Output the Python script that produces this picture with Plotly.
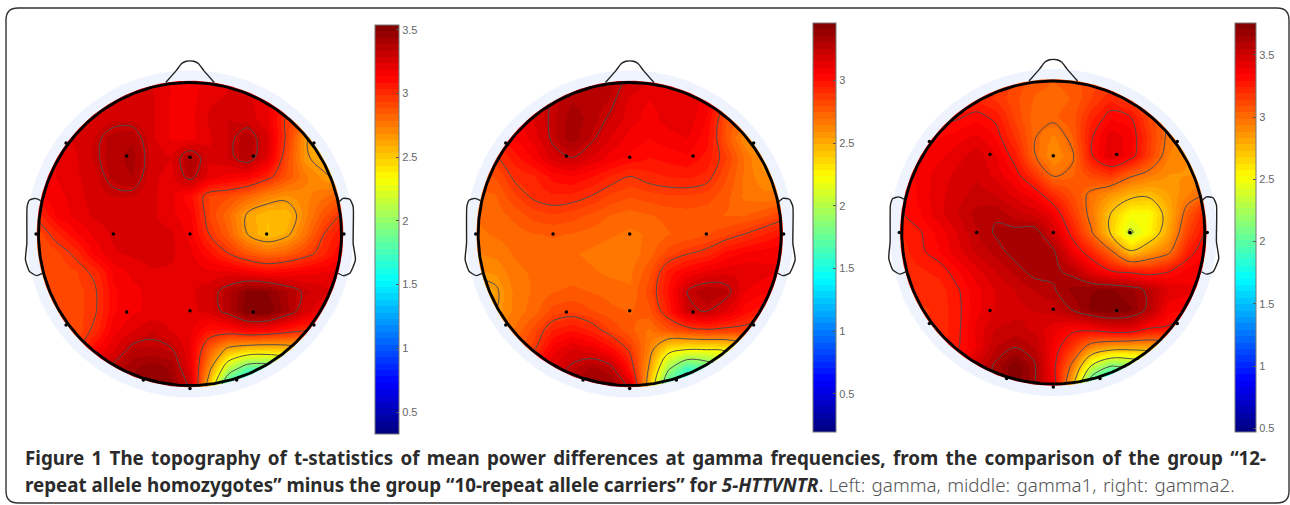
import numpy as np
import plotly.graph_objects as go

W, H = 1290, 505

# t-statistics: rows run from the top of the head to the bottom
gamma_t = [
 [3.20,3.20,3.20,3.20,3.21,3.23,3.23,3.19,3.17,3.20,3.23,3.23,3.19,3.10,2.95,2.80,2.70],
 [3.23,3.23,3.23,3.23,3.25,3.25,3.25,3.18,3.17,3.23,3.25,3.25,3.20,3.10,2.95,2.80,2.70],
 [3.23,3.23,3.23,3.25,3.28,3.28,3.25,3.18,3.17,3.25,3.29,3.27,3.20,2.97,2.85,2.72,2.65],
 [3.17,3.21,3.25,3.29,3.37,3.38,3.25,3.18,3.17,3.23,3.29,3.38,3.25,2.97,2.66,2.55,2.50],
 [3.15,3.20,3.23,3.30,3.37,3.41,3.27,3.24,3.40,3.25,3.29,3.38,3.23,2.92,2.66,2.58,2.50],
 [3.15,3.19,3.23,3.27,3.36,3.39,3.25,3.22,3.36,3.21,3.17,3.15,3.03,2.88,2.75,2.66,2.60],
 [3.13,3.17,3.21,3.27,3.29,3.29,3.25,3.20,3.10,2.93,2.90,2.82,2.72,2.68,2.72,2.78,2.85],
 [3.00,3.15,3.20,3.25,3.27,3.27,3.25,3.20,3.15,2.93,2.80,2.62,2.54,2.54,2.72,2.88,3.00],
 [2.90,3.02,3.13,3.20,3.25,3.27,3.27,3.25,3.17,2.98,2.84,2.64,2.53,2.60,2.78,2.98,3.10],
 [2.88,2.92,3.00,3.15,3.23,3.25,3.27,3.25,3.20,3.10,2.98,2.87,2.80,2.84,2.93,3.03,3.15],
 [2.88,2.90,2.93,3.00,3.15,3.20,3.23,3.23,3.23,3.20,3.21,3.17,3.13,3.15,3.17,3.19,3.21],
 [2.88,2.90,2.92,2.96,3.13,3.17,3.21,3.23,3.23,3.27,3.37,3.50,3.49,3.39,3.30,3.25,3.25],
 [2.88,2.90,2.92,2.96,3.13,3.18,3.20,3.22,3.23,3.25,3.37,3.53,3.54,3.41,3.25,3.20,3.15],
 [2.88,2.88,2.90,3.00,3.17,3.23,3.29,3.23,3.20,3.08,3.08,3.15,3.13,3.06,3.00,2.95,2.90],
 [2.90,2.90,2.95,3.13,3.23,3.35,3.35,3.33,3.19,2.85,2.60,2.52,2.50,2.53,2.60,2.60,2.60],
 [2.95,3.00,3.15,3.25,3.35,3.43,3.48,3.43,3.21,2.70,2.13,1.82,1.80,1.95,2.20,2.30,2.40],
 [3.00,3.10,3.20,3.30,3.40,3.45,3.50,3.45,3.31,2.50,1.60,1.40,1.50,1.70,2.00,2.20,2.30],
]
gamma1_t = [
 [3.20,3.20,3.20,3.20,3.22,3.25,3.28,3.26,3.20,3.15,3.13,3.12,3.05,2.95,2.85,2.80,2.70],
 [3.00,3.05,3.10,3.16,3.23,3.30,3.28,3.25,3.13,3.10,3.12,3.14,3.08,2.90,2.80,2.70,2.65],
 [3.00,3.02,3.08,3.16,3.24,3.34,3.28,3.20,3.12,3.08,3.12,3.14,3.04,2.80,2.72,2.65,2.60],
 [2.95,3.00,3.05,3.12,3.24,3.34,3.24,3.14,3.08,3.05,3.08,3.10,3.02,2.78,2.60,2.52,2.50],
 [2.85,2.88,2.98,3.06,3.18,3.22,3.15,3.08,3.04,3.00,3.02,3.04,2.98,2.85,2.68,2.56,2.50],
 [2.78,2.80,2.91,2.94,3.02,3.05,3.00,2.94,2.89,2.93,2.95,2.96,2.93,2.80,2.68,2.60,2.58],
 [2.72,2.74,2.84,2.91,2.94,2.93,2.89,2.83,2.80,2.82,2.84,2.84,2.82,2.76,2.68,2.66,2.66],
 [2.70,2.72,2.76,2.82,2.84,2.82,2.78,2.74,2.72,2.74,2.76,2.77,2.76,2.74,2.74,2.78,2.85],
 [2.68,2.70,2.72,2.74,2.75,2.74,2.72,2.70,2.68,2.70,2.74,2.76,2.79,2.83,2.89,2.95,3.00],
 [2.64,2.66,2.70,2.72,2.72,2.70,2.68,2.66,2.66,2.72,2.82,2.88,2.92,3.02,3.06,3.08,3.10],
 [2.58,2.60,2.68,2.70,2.71,2.71,2.70,2.68,2.68,2.78,2.97,3.06,3.12,3.14,3.14,3.12,3.10],
 [2.50,2.54,2.66,2.70,2.74,2.76,2.74,2.72,2.70,2.82,3.00,3.22,3.30,3.27,3.10,3.06,3.02],
 [2.50,2.56,2.66,2.72,2.82,2.84,2.80,2.76,2.74,2.78,2.96,3.20,3.23,3.14,3.02,2.96,2.92],
 [2.62,2.66,2.70,2.82,2.95,3.00,2.94,2.84,2.76,2.68,2.78,2.84,2.88,2.86,2.85,2.82,2.80],
 [2.70,2.72,2.76,2.88,3.08,3.16,3.12,3.02,2.87,2.64,2.32,2.25,2.25,2.27,2.40,2.50,2.50],
 [2.80,2.90,3.00,3.08,3.16,3.24,3.32,3.26,2.98,2.55,1.95,1.62,1.70,1.90,2.20,2.35,2.40],
 [2.90,3.00,3.10,3.20,3.25,3.30,3.40,3.40,3.20,2.45,1.60,1.40,1.50,1.70,2.00,2.20,2.30],
]
gamma2_t = [
 [3.26,3.26,3.26,3.26,3.23,3.21,3.12,3.06,3.04,3.06,3.12,3.12,3.12,3.06,3.01,2.95,2.90],
 [3.29,3.29,3.29,3.29,3.23,3.18,3.10,3.03,3.01,3.04,3.14,3.23,3.14,3.06,3.01,2.95,2.90],
 [3.23,3.26,3.28,3.29,3.33,3.28,3.12,3.01,3.03,3.07,3.23,3.34,3.31,3.12,2.99,2.90,2.85],
 [3.29,3.32,3.34,3.37,3.41,3.34,3.18,3.01,2.92,3.04,3.29,3.43,3.37,3.16,2.97,2.88,2.85],
 [3.29,3.34,3.38,3.43,3.48,3.40,3.26,3.01,2.88,2.98,3.29,3.45,3.36,3.14,2.93,2.88,2.85],
 [3.30,3.36,3.42,3.46,3.49,3.43,3.34,3.18,2.98,3.03,3.12,3.18,3.03,2.95,2.88,2.88,2.90],
 [3.28,3.36,3.43,3.48,3.52,3.50,3.43,3.36,3.21,3.09,2.97,2.86,2.76,2.74,2.83,2.93,3.01],
 [3.29,3.34,3.43,3.50,3.57,3.59,3.52,3.48,3.38,3.16,2.95,2.70,2.52,2.52,2.78,3.06,3.26],
 [3.24,3.29,3.36,3.45,3.55,3.61,3.63,3.65,3.48,3.26,3.01,2.68,2.37,2.55,2.82,3.14,3.32],
 [3.21,3.28,3.34,3.43,3.51,3.57,3.63,3.65,3.62,3.38,3.23,3.03,2.72,2.85,2.96,3.26,3.36],
 [3.21,3.23,3.26,3.34,3.43,3.50,3.57,3.63,3.62,3.57,3.41,3.30,3.26,3.23,3.29,3.36,3.41],
 [3.21,3.21,3.21,3.29,3.38,3.45,3.50,3.55,3.59,3.67,3.70,3.71,3.67,3.57,3.45,3.41,3.38],
 [3.21,3.18,3.20,3.28,3.38,3.45,3.48,3.50,3.52,3.61,3.72,3.75,3.71,3.57,3.36,3.34,3.34],
 [3.18,3.18,3.20,3.28,3.41,3.50,3.52,3.48,3.41,3.34,3.36,3.43,3.43,3.30,3.29,3.23,3.16],
 [3.18,3.18,3.21,3.29,3.40,3.55,3.60,3.55,3.37,3.17,2.90,2.80,2.78,2.80,2.85,2.90,2.90],
 [3.18,3.21,3.26,3.34,3.51,3.62,3.75,3.62,3.34,2.95,2.36,2.08,2.13,2.25,2.48,2.60,2.70],
 [3.21,3.23,3.29,3.36,3.45,3.61,3.75,3.61,3.40,2.75,1.83,1.55,1.67,1.90,2.28,2.50,2.60],
]
color_ranges = [(0.33, 3.54), (0.194, 3.458), (0.47, 3.755)]
contour_levels = [(1.62, 3.32, 0.34), (1.57, 3.22, 0.33), (1.8, 3.6, 0.3)]
tick_vals = [[0.5, 1, 1.5, 2, 2.5, 3, 3.5], [0.5, 1, 1.5, 2, 2.5, 3], [0.5, 1, 1.5, 2, 2.5, 3, 3.5]]
tick_text = [["0.5", "1", "1.5", "2", "2.5", "3", "3.5"], ["0.5", "1", "1.5", "2", "2.5", "3"], ["0.5", "1", "1.5", "2", "2.5", "3", "3.5"]]

electrode_x = [-0.418,0,0.418,-0.506,0,0.506,-0.418,0,0.418,-0.818,0.818,-1.016,1.016,-0.818,0.818,-0.308,0,0.308]
electrode_y = [0.515,0.506,0.515,0,0,0,-0.515,-0.506,-0.515,0.6,0.6,0,0,-0.6,-0.6,-0.964,-1.02,-0.964]
nose_x = [-0.16,-0.09,-0.055,-0.025,0,0.025,0.055,0.09,0.16]
nose_y = [1.0,1.08,1.125,1.14,1.143,1.14,1.125,1.08,1.0]
ear_left_x = [-0.985,-1.022,-1.059,-1.075,-1.077,-1.086,-1.059,-1.011,-0.971]
ear_left_y = [0.22,0.235,0.224,0.18,-0.062,-0.171,-0.248,-0.275,-0.259]
ear_right_x = [0.985,1.011,1.055,1.077,1.077,1.092,1.055,1.011,0.978]
ear_right_y = [0.213,0.235,0.229,0.18,-0.062,-0.171,-0.259,-0.275,-0.259]

panel_centers = [(190, 234), (629.7, 234), (1053.3, 232.5)]
bars = [(374.7, 398.7, 24.7, 433.7), (812.7, 835.3, 23.3, 432), (1234.7, 1256, 23.3, 432)]
R_PX = 151.5
HALF_PX = 180
HALF = HALF_PX / R_PX
ring_r, mask_r, inner_r = 1.08, 1.07, 1.012


def jet(t):
    r = np.clip(min(4 * t - 1.5, -4 * t + 4.5), 0, 1)
    g = np.clip(min(4 * t - 0.5, -4 * t + 3.5), 0, 1)
    b = np.clip(min(4 * t + 0.5, -4 * t + 2.5), 0, 1)
    return f"rgb({int(r*255)},{int(g*255)},{int(b*255)})"


N = 64
jet_scale = []
for i in range(N):
    c = jet((i + 0.5) / N)
    jet_scale += [[i / N, c], [(i + 1) / N, c]]

theta = np.linspace(0, 2 * np.pi, 361)


def keyhole(outer_x, outer_y, r):
    # the inner circle runs the opposite way round so that it stays a hole
    x = list(outer_x) + list(r * np.cos(theta[::-1]))
    y = list(outer_y) + list(r * np.sin(theta[::-1]))
    return x + [outer_x[0]], y + [outer_y[0]]


grid = np.linspace(-inner_r, inner_r, 17)
fig = go.Figure()
for p, (z_rows, (lo, hi), (c0, c1, dc), tv, tt, (cx, cy), (bx0, bx1, by0, by1)) in enumerate(
    zip([gamma_t, gamma1_t, gamma2_t], color_ranges, contour_levels, tick_vals, tick_text, panel_centers, bars)
):
    xa = "x" if p == 0 else f"x{p+1}"
    ya = "y" if p == 0 else f"y{p+1}"
    z = np.array(z_rows)[::-1]
    fig.add_trace(go.Heatmap(
        x=grid, y=grid, z=z, xaxis=xa, yaxis=ya, zmin=lo, zmax=hi, zsmooth="best",
        colorscale=jet_scale, hoverinfo="skip",
        colorbar=dict(
            x=bx0 / W, xanchor="left", xref="paper", y=1 - by1 / H, yanchor="bottom", yref="paper",
            lenmode="pixels", len=by1 - by0, thicknessmode="pixels", thickness=bx1 - bx0,
            xpad=0, ypad=0, outlinecolor="#777777", outlinewidth=1, borderwidth=0,
            tickmode="array", tickvals=tv, ticktext=tt, ticks="inside", ticklen=3, tickcolor="#555555",
            tickfont=dict(family="Liberation Sans", size=11, color="#666666"),
        ),
    ))
    fig.add_trace(go.Contour(
        x=grid, y=grid, z=z, xaxis=xa, yaxis=ya, showscale=False, hoverinfo="skip",
        autocontour=False, contours=dict(start=c0, end=c1, size=dc, coloring="none", showlines=True),
        line=dict(color="#4d4d4d", width=1, smoothing=1),
    ))
    mx, my = keyhole([HALF, HALF, -HALF, -HALF, HALF, HALF], [0, HALF, HALF, -HALF, -HALF, 0], mask_r)
    fig.add_trace(go.Scatter(x=mx, y=my, xaxis=xa, yaxis=ya, mode="lines", fill="toself",
                             fillcolor="white", line=dict(width=0), hoverinfo="skip", showlegend=False))
    ox, oy = ring_r * np.cos(theta), ring_r * np.sin(theta)
    rx, ry = keyhole(list(ox), list(oy), inner_r)
    fig.add_trace(go.Scatter(x=rx, y=ry, xaxis=xa, yaxis=ya, mode="lines", fill="toself",
                             fillcolor="#EEF3FE", line=dict(width=0), hoverinfo="skip", showlegend=False))
    fig.add_trace(go.Scatter(x=np.cos(theta), y=np.sin(theta), xaxis=xa, yaxis=ya, mode="lines",
                             line=dict(color="black", width=2.8), hoverinfo="skip", showlegend=False))
    for lx, ly in [(nose_x, nose_y), (ear_left_x, ear_left_y), (ear_right_x, ear_right_y)]:
        fig.add_trace(go.Scatter(x=lx, y=ly, xaxis=xa, yaxis=ya, mode="lines",
                                 line=dict(color="#222222", width=1.4, shape="spline", smoothing=0.5),
                                 hoverinfo="skip", showlegend=False))
    fig.add_trace(go.Scatter(x=electrode_x, y=electrode_y, xaxis=xa, yaxis=ya, mode="markers",
                             marker=dict(color="black", size=3.5), hoverinfo="skip", showlegend=False))
    axis = dict(visible=False, fixedrange=True)
    suffix = "" if p == 0 else str(p + 1)
    fig.update_layout(**{
        f"xaxis{suffix}": dict(axis, range=[-HALF, HALF], domain=[(cx - HALF_PX) / W, (cx + HALF_PX) / W]),
        f"yaxis{suffix}": dict(axis, range=[-HALF, HALF], domain=[1 - (cy + HALF_PX) / H, 1 - (cy - HALF_PX) / H]),
    })

caption_font = dict(family="Noto Sans", size=18.8, color="#2b2b2b")
line1 = ("<span style=\"word-spacing:2.4px\"><b>Figure 1 The topography of t-statistics of mean power differences at gamma "
         "frequencies, from the comparison of the group “12-</b></span>")
line2 = ("<b>repeat allele homozygotes” minus the group “10-repeat allele carriers” for <i>5-HTTVNTR</i></b>. "
         "<span style=\"font-weight:300;fill:#555555;word-spacing:1.5px\">Left: gamma, middle: gamma1, right: gamma2.</span>")
annots = [
    dict(text=line1, x=23 / W, y=1 - 458 / H, xref="paper", yref="paper", xanchor="left", yanchor="middle",
         showarrow=False, font=caption_font),
    dict(text=line2, x=23 / W, y=1 - 485 / H, xref="paper", yref="paper", xanchor="left", yanchor="middle",
         showarrow=False, font=caption_font),
]
x0, x1, y0, y1, rad = 6 / W, 1289 / W, 1 - 8 / H, 1 - 503 / H, 12
rx_, ry_ = rad / W, rad / H
border = (f"M {x0+rx_} {y0} L {x1-rx_} {y0} Q {x1} {y0} {x1} {y0-ry_} L {x1} {y1+ry_} Q {x1} {y1} {x1-rx_} {y1} "
          f"L {x0+rx_} {y1} Q {x0} {y1} {x0} {y1+ry_} L {x0} {y0-ry_} Q {x0} {y0} {x0+rx_} {y0} Z")
fig.update_layout(
    width=W, height=H, autosize=False, margin=dict(l=0, r=0, t=0, b=0, autoexpand=False),
    paper_bgcolor="white", plot_bgcolor="white", showlegend=False, annotations=annots,
    shapes=[dict(type="path", path=border, xref="paper", yref="paper", line=dict(color="#333333", width=1.4))],
    hovermode=False,
)
fig.write_html("out.html", config=dict(displayModeBar=False),
               post_script="document.body.style.margin='0';document.documentElement.style.overflow='hidden';")
